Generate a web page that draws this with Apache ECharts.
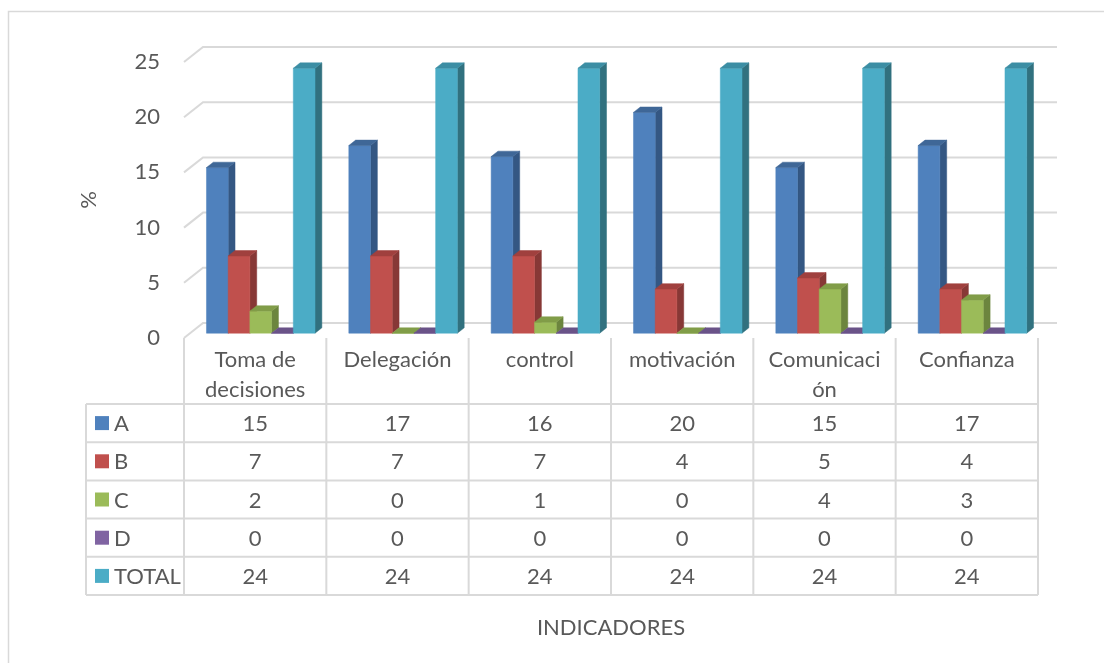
<!DOCTYPE html>
<html>
<head>
<meta charset="utf-8">
<script src="https://cdn.jsdelivr.net/npm/echarts@6/dist/echarts.min.js"></script>
<style>
  html, body { margin: 0; padding: 0; background: #ffffff; }
  #chart { width: 1104px; height: 663px; }
</style>
</head>
<body>
<div id="chart"></div>
<script>
// ---- data ----
const categories = ['Toma de decisiones', 'Delegación', 'control', 'motivación', 'Comunicación', 'Confianza'];
const categoryLabels = ['Toma de\ndecisiones', 'Delegación', 'control', 'motivación', 'Comunicaci\nón', 'Confianza'];
const seriesNames = ['A', 'B', 'C', 'D', 'TOTAL'];
const valuesA = [15, 17, 16, 20, 15, 17];
const valuesB = [7, 7, 7, 4, 5, 4];
const valuesC = [2, 0, 1, 0, 4, 3];
const valuesD = [0, 0, 0, 0, 0, 0];
const valuesTotal = [24, 24, 24, 24, 24, 24];
const yTicks = [0, 5, 10, 15, 20, 25];
const axisTitleY = '%';
const axisTitleX = 'INDICADORES';

const seriesValues = [valuesA, valuesB, valuesC, valuesD, valuesTotal];

// ---- styling ----
const FRONT = ['#4F81BD', '#C0504D', '#9BBB59', '#8064A2', '#4BACC6'];
const TOP   = ['#3F6797', '#A0403E', '#819D48', '#6A5388', '#3C8EA4'];
const SIDE  = ['#345783', '#873836', '#6C853E', '#594574', '#31717F'];
const TEXT = '#595959';
const LINE = '#D9D9D9';
const FONT = 'Lato, "Open Sans", sans-serif';
const FS = 22;

// 3D projection: full floor depth vector and bar placement within it
const DEPTH = [19, -15];
const BAR_FRONT = 0.32;   // fraction of depth where bar front faces sit
const BAR_DEPTH = 0.36;   // fraction of depth taken by a bar
const BAR_W = 0.1525;     // bar width as fraction of category band

// data table layout
const TABLE_TOP = 404;
const ROW_H = 38.2;
const HEADER_LEFT = 86;

function barRenderer(si) {
  return function (params, api) {
    const c = api.value(0), v = api.value(1);
    const base = api.coord([c, 0]);
    const top = api.coord([c, v]);
    const band = api.size([1, 0])[0];
    const w = band * BAR_W;
    const ox = DEPTH[0] * BAR_FRONT, oy = DEPTH[1] * BAR_FRONT;
    const dx = DEPTH[0] * BAR_DEPTH, dy = DEPTH[1] * BAR_DEPTH;
    const x0 = base[0] + (si - seriesNames.length / 2) * w + ox - 0.5;
    const x1 = x0 + w;
    const yb = base[1] + oy, yt = top[1] + oy;
    return {
      type: 'group',
      children: [
        { type: 'polygon', shape: { points: [[x1, yt], [x1 + dx, yt + dy], [x1 + dx, yb + dy], [x1, yb]] },
          style: { fill: SIDE[si], stroke: SIDE[si], lineWidth: 0.5 } },
        { type: 'rect', shape: { x: x0, y: yt, width: w, height: yb - yt },
          style: { fill: FRONT[si], stroke: FRONT[si], lineWidth: 0.5 } },
        { type: 'polygon', shape: { points: [[x0, yt], [x1, yt], [x1 + dx, yt + dy], [x0 + dx, yt + dy]] },
          style: { fill: TOP[si], stroke: TOP[si], lineWidth: 0.5 } }
      ]
    };
  };
}

function wallRenderer(params, api) {
  const y = api.coord([0, api.value(1)])[1];
  const cs = params.coordSys;
  return {
    type: 'polyline',
    shape: { points: [[cs.x, y], [cs.x + DEPTH[0], y + DEPTH[1]], [cs.x + cs.width + DEPTH[0], y + DEPTH[1]]] },
    style: { stroke: LINE, lineWidth: 2, fill: null }
  };
}

function tableRenderer(params, api) {
  const i = api.value(0);
  const cs = params.coordSys;
  const p = api.coord([i, 0]);
  const band = api.size([1, 0])[0];
  const cx = p[0];
  const floorY = p[1];
  const bottom = TABLE_TOP + ROW_H * seriesNames.length;
  const children = [];
  const vline = (x, y0) => ({ type: 'line', shape: { x1: x, y1: y0, x2: x, y2: bottom }, style: { stroke: LINE, lineWidth: 2 } });
  children.push(vline(cx - band / 2, floorY));
  if (i === categories.length - 1) children.push(vline(cx + band / 2, floorY));
  children.push({
    type: 'text',
    style: { text: categoryLabels[i], x: cx, y: floorY + 7, align: 'center', verticalAlign: 'top',
      lineHeight: 30, fill: TEXT, font: FS + 'px ' + FONT }
  });
  seriesValues.forEach((vals, r) => {
    children.push({
      type: 'text',
      style: { text: String(vals[i]), x: cx, y: TABLE_TOP + ROW_H * (r + 0.5) + 1, align: 'center', verticalAlign: 'middle',
        fill: TEXT, font: FS + 'px ' + FONT }
    });
  });
  if (i === 0) {
    const right = cs.x + cs.width;
    children.push(vline(HEADER_LEFT, TABLE_TOP));
    for (let r = 0; r <= seriesNames.length; r++) {
      const y = TABLE_TOP + ROW_H * r;
      children.push({ type: 'line', shape: { x1: HEADER_LEFT, y1: y, x2: right, y2: y }, style: { stroke: LINE, lineWidth: 2 } });
    }
    seriesNames.forEach((name, r) => {
      const yc = TABLE_TOP + ROW_H * (r + 0.5);
      children.push({ type: 'rect', shape: { x: 95, y: yc - 7, width: 14, height: 14 }, style: { fill: FRONT[r] } });
      children.push({ type: 'text', style: { text: name, x: 114, y: yc + 1, align: 'left', verticalAlign: 'middle',
        fill: TEXT, font: FS + 'px ' + FONT } });
    });
  }
  return { type: 'group', children };
}

const chart = echarts.init(document.getElementById('chart'), null, { renderer: 'canvas' });

const series = [
  {
    type: 'custom', name: 'walls', z: 1, silent: true,
    renderItem: wallRenderer,
    encode: { x: 0, y: 1 },
    data: yTicks.map(v => [0, v])
  },
  {
    type: 'custom', name: 'table', z: 1, silent: true,
    renderItem: tableRenderer,
    encode: { x: 0, y: 1 },
    data: categories.map((c, i) => [i, 0])
  }
];
seriesNames.forEach((name, si) => {
  series.push({
    type: 'custom', name, z: 2,
    renderItem: barRenderer(si),
    encode: { x: 0, y: 1 },
    data: seriesValues[si].map((v, i) => [i, v])
  });
});

chart.setOption({
  animation: false,
  backgroundColor: '#ffffff',
  textStyle: { fontFamily: FONT },
  graphic: [
    { type: 'rect', shape: { x: 8.5, y: 11.5, width: 1200, height: 800 },
      style: { fill: null, stroke: LINE, lineWidth: 1.5 }, silent: true }
  ],
  grid: { left: 184, right: 66, top: 62, bottom: 325 },
  xAxis: {
    type: 'category',
    data: categories,
    boundaryGap: true,
    axisLine: { show: false },
    axisTick: { show: false },
    axisLabel: { show: false },
    splitLine: { show: false },
    name: axisTitleX,
    nameLocation: 'middle',
    nameGap: 279,
    nameTextStyle: { color: TEXT, fontSize: FS, fontFamily: FONT }
  },
  yAxis: {
    type: 'value',
    min: 0, max: 25, interval: 5,
    axisLine: { show: false },
    axisTick: { show: false },
    splitLine: { show: false },
    axisLabel: { color: TEXT, fontSize: FS, fontFamily: FONT, margin: 24 },
    name: axisTitleY,
    nameLocation: 'middle',
    nameRotate: 90,
    nameGap: 84,
    nameTextStyle: { color: TEXT, fontSize: FS, fontFamily: FONT }
  },
  series
});
</script>
</body>
</html>
